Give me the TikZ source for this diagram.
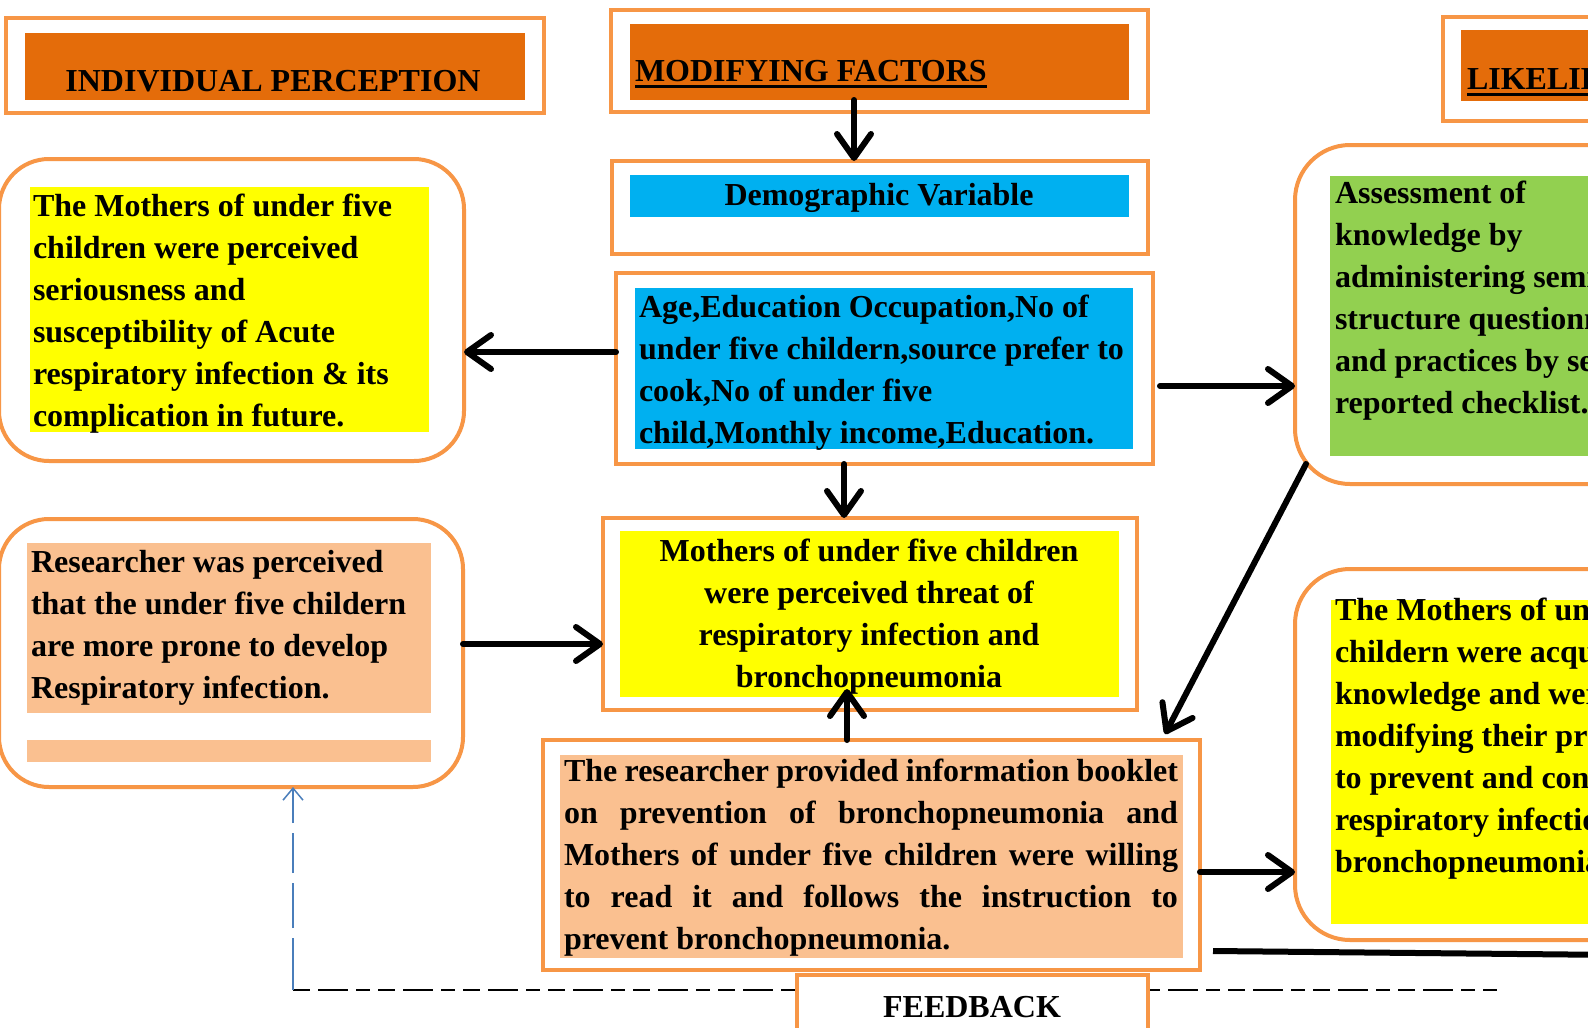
\documentclass[tikz,border=0pt]{standalone}
\usepackage{fontspec}
\setmainfont{Liberation Serif}
\usetikzlibrary{arrows.meta,calc}
\definecolor{borange}{HTML}{F79646}
\definecolor{hdr}{HTML}{E46C0A}
\definecolor{cyanb}{HTML}{00B0F0}
\definecolor{yel}{HTML}{FFFF00}
\definecolor{grn}{HTML}{92D050}
\definecolor{peach}{HTML}{FAC090}
\definecolor{fbblue}{HTML}{4A7EBB}
\newcommand\mybodyfont{\fontsize{32}{42}\selectfont\bfseries}
\newcommand\myfixedspace{\spaceskip 8pt\relax\xspaceskip 8pt\relax}
\newcommand\myjustspace{\spaceskip 8pt plus 4pt minus 2pt\relax}
\begin{document}
\begin{tikzpicture}[x=1pt,y=-1pt,
  frame/.style={draw=borange, line width=4pt, fill=white, rectangle, inner sep=0pt, outer sep=0pt},
  rframe/.style={frame, rounded corners=#1},
  panel/.style={rectangle, inner sep=0pt, outer sep=0pt, draw=none, fill=#1},
  bodyfont/.style={font=\mybodyfont},
  ltxt/.style={bodyfont, inner sep=0pt, outer sep=0pt, text width=#1, align=left, anchor=base west, execute at begin node=\myfixedspace},
  ctxt/.style={bodyfont, inner sep=0pt, outer sep=0pt, text width=#1, align=center, anchor=base, execute at begin node=\myfixedspace},
  arr/.style={line width=6pt, line cap=round, -{Straight Barb[length=24pt,width=34pt,round]}},
  dashline/.style={line width=1.6pt, dash pattern=on 17pt off 8pt on 30pt off 8pt on 14pt off 8pt},
  fbarrow/.style={draw=fbblue, line width=1.5pt, dash pattern=on 52pt off 10pt on 45pt off 10pt on 40pt off 10pt, -{Straight Barb[length=12pt,width=20pt]}}
]
\useasboundingbox (0,0) rectangle (1588,1028);
\clip (0,0) rectangle (1588,1028);
\fill[white] (0,0) rectangle (1588,1028);

% ---------- headers ----------
\node[frame, minimum width=538, minimum height=95] (ipf) at (275,65.5) {};
\node[panel=hdr, minimum width=500, minimum height=67] (ipin) at (275,66.5) {};
\node[bodyfont, inner sep=0pt, anchor=base] (ipt) at (273,91) {INDIVIDUAL PERCEPTION};

\node[frame, minimum width=537, minimum height=102] (mf) at (879.5,61) {};
\node[panel=hdr, minimum width=499, minimum height=76] (mfin) at (879.5,62) {};
\node[bodyfont, inner sep=0pt, outer sep=0pt, anchor=base west] (mft) at (635,81) {MODIFYING FACTORS};
\draw[line width=3pt] ([yshift=-5pt]mft.base west) -- ([yshift=-5pt]mft.base east);

\node[frame, minimum width=537, minimum height=104] (lk) at (1711.5,69) {};
\node[panel=hdr, minimum width=500, minimum height=71] (lkin) at (1711,65.5) {};
\node[bodyfont, inner sep=0pt, outer sep=0pt, anchor=base west] (lkt) at (1467,89) {LIKELIHOOD OF ACTION};
\draw[line width=3pt] ([yshift=-5pt]lkt.base west) -- ([yshift=-5pt]lkt.base east);

% ---------- demographic ----------
\node[frame, minimum width=536, minimum height=93] (demo) at (880,207.5) {};
\node[panel=cyanb, minimum width=499, minimum height=42] (demoin) at (879.5,196) {};
\node[bodyfont, inner sep=0pt, anchor=base] (demot) at (879,205) {Demographic Variable};

\node[frame, minimum width=537, minimum height=191] (age) at (884.5,368.5) {};
\node[panel=cyanb, minimum width=498, minimum height=161] (agein) at (884,368.5) {};
\node[ltxt=520] (aget) at (639,317) {Age,Education Occupation,No of\\under five childern,source prefer to\\cook,No of under five\\child,Monthly income,Education.};

% ---------- left column ----------
\node[rframe=50pt, minimum width=465, minimum height=302] (perc) at (231.5,310) {};
\node[panel=yel, minimum width=399, minimum height=245] (percin) at (229.5,309.5) {};
\node[ltxt=420] (perct) at (33,216) {The Mothers of under five\\children were perceived\\seriousness and\\susceptibility of Acute\\respiratory infection \& its\\complication in future.};

\node[rframe=50pt, minimum width=464, minimum height=268] (resr) at (231,653) {};
\node[panel=peach, minimum width=404, minimum height=170] (resrin) at (229,628) {};
\node[panel=peach, minimum width=404, minimum height=22] (resrstrip) at (229,751) {};
\node[ltxt=420] (resrt) at (31,572) {Researcher was perceived\\that the under five childern\\are more prone to develop\\Respiratory infection.};

% ---------- centre ----------
\node[frame, minimum width=534, minimum height=192] (threat) at (870,614) {};
\node[panel=yel, minimum width=499, minimum height=166] (threatin) at (869.5,614) {};
\node[ctxt=520] (threatt) at (869,561) {Mothers of under five children\\were perceived threat of\\respiratory infection and\\bronchopneumonia};

\node[frame, minimum width=657, minimum height=230] (booklet) at (871.5,855) {};
\node[panel=peach, minimum width=623, minimum height=203] (bookletin) at (871.5,856.5) {};
\node[bodyfont, inner sep=0pt, outer sep=0pt, text width=614, align=justify, anchor=base west, execute at begin node=\myjustspace] (booklett) at (564,781) {The researcher provided information booklet\linebreak on prevention of bronchopneumonia and\linebreak Mothers of under five children were willing\linebreak to read it and follows the instruction to\linebreak prevent bronchopneumonia.};

% ---------- right column ----------
\node[rframe=55pt, minimum width=505, minimum height=339] (assess) at (1547.5,314.5) {};
\node[panel=grn, minimum width=470, minimum height=280] (assessin) at (1565,316) {};
\node[ltxt=480] (assesst) at (1335,203) {Assessment of\\knowledge by\\administering semi\\structure questionnaire\\and practices by self\\reported checklist.};

\node[rframe=55pt, minimum width=505, minimum height=371] (mothR) at (1547.5,754.5) {};
\node[panel=yel, minimum width=469, minimum height=324] (mothRin) at (1565.5,762) {};
\node[ltxt=480] (mothRt) at (1335,620) {The Mothers of under five\\childern were acquired\\knowledge and were\\modifying their practices\\to prevent and control\\respiratory infection and\\bronchopneumonia};

% ---------- feedback ----------
\coordinate (fbL) at (293,990);
\coordinate (fbR) at (1497,990);
\draw[dashline] (fbL) -- (fbR);
\draw[fbarrow] (fbL) -- (resr.south -| fbL);
\node[frame, minimum width=351, minimum height=85] (fb) at (972.5,1017.5) {};
\node[bodyfont, inner sep=0pt, anchor=base] (fbt) at (972,1017) {FEEDBACK};

% ---------- arrows ----------
\draw[arr] (mfin.south -| 854,0) -- (demo.north -| 854,0);
\draw[arr] (age.west |- 0,352) -- (perc.east |- 0,352);
\draw[arr] ($(age.east |- 0,386)+(7,0)$) -- (assess.west |- 0,386);
\draw[arr] (age.south -| 844,0) -- (threat.north -| 844,0);
\draw[arr] (resr.east |- 0,644) -- (threat.west |- 0,644);
\draw[arr] (booklet.north -| 847,0) -- ($(threat.south -| 847,0)+(0,-21)$);
\draw[arr] ($(assess.south west)+(11,-20)$) -- ($(booklet.north east)+(-35,-6)$);
\draw[arr] (booklet.east |- 0,872) -- (mothR.west |- 0,872);
\coordinate (tEnd) at (1620,955);
\draw[line width=6pt] ($(booklet.east |- 0,951)+(13,0)$) -- (tEnd);
\end{tikzpicture}
\end{document}
